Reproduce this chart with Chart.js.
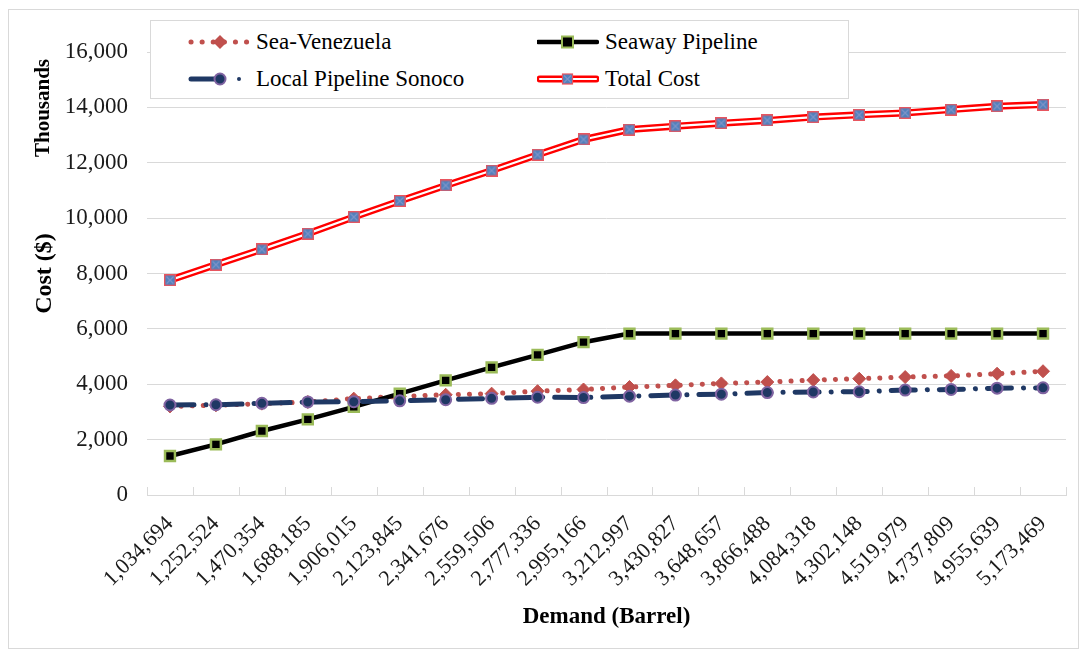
<!DOCTYPE html>
<html>
<head>
<meta charset="utf-8">
<title>Cost vs Demand</title>
<script src="https://cdn.jsdelivr.net/npm/chart.js@4"></script>
<style>
  html, body { margin: 0; padding: 0; background: #fff; }
  #wrap { position: relative; width: 1087px; height: 656px; overflow: hidden; }
  #c { position: absolute; left: 0; top: 0; }
  #frame { position: absolute; left: 8px; top: 9px; width: 1069px; height: 638px;
           border: 1px solid #d9d9d9; pointer-events: none; }
  #legend { position: absolute; left: 150px; top: 20px; width: 697px; height: 77px;
            background: #fff; border: 1px solid #d9d9d9;
            font-family: "Liberation Serif", "Times New Roman", serif; font-size: 23px; color: #000; }
  .item { position: absolute; height: 30px; display: flex; align-items: center; white-space: nowrap; }
  .item svg { display: block; margin-right: 6px; }
</style>
</head>
<body>
<div id="wrap">
  <canvas id="c" width="1087" height="656"></canvas>
  <div id="frame"></div>
  <div id="legend">
    <div class="item" style="left:37px; top:6px;">
      <svg width="62" height="20" viewBox="0 0 62 20">
        <line x1="3" y1="10" x2="60" y2="10" stroke="#C0504D" stroke-width="5" stroke-dasharray="0.1 11" stroke-linecap="round"/>
        <polygon points="32,3 39,10 32,17 25,10" fill="#C0504D"/>
      </svg>Sea-Venezuela
    </div>
    <div class="item" style="left:37px; top:43px;">
      <svg width="62" height="20" viewBox="0 0 62 20">
        <line x1="3" y1="10" x2="26" y2="10" stroke="#1F3864" stroke-width="5" stroke-linecap="round"/>
        <circle cx="32" cy="10" r="5.5" fill="#1F3864" stroke="#8064A2" stroke-width="2"/>
        <circle cx="51" cy="10" r="2" fill="#1F3864"/>
      </svg>Local Pipeline Sonoco
    </div>
    <div class="item" style="left:386px; top:6px;">
      <svg width="62" height="20" viewBox="0 0 62 20">
        <line x1="1" y1="10" x2="60" y2="10" stroke="#000" stroke-width="4.5" stroke-linecap="round"/>
        <rect x="25" y="4.5" width="11" height="11" fill="#000" stroke="#9BBB59" stroke-width="2"/>
      </svg>Seaway Pipeline
    </div>
    <div class="item" style="left:386px; top:43px;">
      <svg width="62" height="20" viewBox="0 0 62 20">
        <line x1="3" y1="10" x2="59" y2="10" stroke="#FF0000" stroke-width="7" stroke-linecap="round"/>
        <line x1="3" y1="10" x2="59" y2="10" stroke="#fff" stroke-width="2.2" stroke-linecap="round"/>
        <rect x="25.5" y="5" width="10" height="10" fill="#4F81BD" stroke="#E8555F" stroke-width="1.2"/>
        <path d="M27 6.5 L34 13.5 M34 6.5 L27 13.5" stroke="#7F93C8" stroke-width="1.2"/>
      </svg>Total Cost
    </div>
  </div>
</div>
<script>
// Demand levels (barrels) on the category axis
const demand = ['1,034,694', '1,252,524', '1,470,354', '1,688,185', '1,906,015',
                '2,123,845', '2,341,676', '2,559,506', '2,777,336', '2,995,166',
                '3,212,997', '3,430,827', '3,648,657', '3,866,488', '4,084,318',
                '4,302,148', '4,519,979', '4,737,809', '4,955,639', '5,173,469'];

// Cost per route, in thousands of dollars
const seaVenezuela = [3200, 3240, 3300, 3360, 3480, 3560, 3620, 3660, 3750, 3810,
                      3900, 3960, 4030, 4080, 4150, 4200, 4260, 4300, 4380, 4470];
const seawayPipeline = [1410, 1830, 2310, 2730, 3185, 3660, 4140, 4610, 5060, 5520,
                        5830, 5830, 5830, 5830, 5830, 5830, 5830, 5830, 5830, 5830];
const localPipelineSonoco = [3250, 3260, 3310, 3360, 3370, 3400, 3440, 3490, 3530, 3520,
                             3570, 3610, 3640, 3700, 3720, 3730, 3790, 3810, 3860, 3870];
const totalCost = [7760, 8320, 8870, 9440, 10040, 10620, 11180, 11720, 12290, 12840,
                   13200, 13320, 13430, 13530, 13650, 13730, 13800, 13920, 14040, 14100];

// Y axis range and step
const yMin = 0, yMax = 16000, yStep = 2000;

const FONT = '"Liberation Serif", "Times New Roman", serif';
const GRID = '#d9d9d9';

// Square marker with a cross, used on the total cost line
const totalMarker = (() => {
  const c = document.createElement('canvas');
  c.width = 12; c.height = 12;
  const g = c.getContext('2d');
  g.fillStyle = '#4F81BD';
  g.fillRect(0, 0, 12, 12);
  g.strokeStyle = '#E8555F';
  g.lineWidth = 1.4;
  g.strokeRect(0.7, 0.7, 10.6, 10.6);
  g.strokeStyle = '#7F93C8';
  g.lineWidth = 1.2;
  g.beginPath();
  g.moveTo(2.5, 2.5); g.lineTo(9.5, 9.5);
  g.moveTo(9.5, 2.5); g.lineTo(2.5, 9.5);
  g.stroke();
  return c;
})();

// Short tick marks pointing up from the category axis, at category boundaries
const innerTicks = {
  id: 'innerTicks',
  beforeDatasetsDraw(chart) {
    const xs = chart.scales.x;
    const n = xs.ticks.length;
    const step = xs.width / n;
    const ctx = chart.ctx;
    ctx.save();
    ctx.strokeStyle = GRID;
    ctx.lineWidth = 1;
    ctx.beginPath();
    for (let i = 0; i <= n; i++) {
      const x = Math.round(xs.left + i * step) + 0.5;
      ctx.moveTo(x, xs.top);
      ctx.lineTo(x, xs.top - 8);
    }
    ctx.stroke();
    ctx.restore();
  }
};

// Units note stacked above the y axis title
const unitsNote = {
  id: 'unitsNote',
  afterDraw(chart) {
    const ctx = chart.ctx;
    ctx.save();
    ctx.translate(44, 108);
    ctx.rotate(-Math.PI / 2);
    ctx.font = 'bold 21px ' + FONT;
    ctx.fillStyle = '#000';
    ctx.textAlign = 'center';
    ctx.textBaseline = 'middle';
    ctx.fillText('Thousands', 0, 0);
    ctx.restore();
  }
};

new Chart(document.getElementById('c'), {
  type: 'line',
  data: {
    labels: demand,
    datasets: [
      {
        label: 'Sea-Venezuela',
        data: seaVenezuela,
        borderColor: '#C0504D',
        borderWidth: 5,
        borderDash: [0.1, 11],
        borderCapStyle: 'round',
        pointStyle: 'rectRot',
        pointRadius: 6.5,
        pointBackgroundColor: '#C0504D',
        pointBorderColor: '#C0504D',
        pointBorderWidth: 1,
        order: 5
      },
      {
        label: 'Seaway Pipeline',
        data: seawayPipeline,
        borderColor: '#000',
        borderWidth: 4.5,
        pointStyle: 'rect',
        pointRadius: 7,
        pointBackgroundColor: '#000',
        pointBorderColor: '#9BBB59',
        pointBorderWidth: 2.5,
        order: 4
      },
      {
        label: 'Local Pipeline Sonoco',
        data: localPipelineSonoco,
        borderColor: '#1F3864',
        borderWidth: 5,
        borderDash: [24, 12, 0.1, 12],
        borderCapStyle: 'round',
        pointStyle: 'circle',
        pointRadius: 5.5,
        pointBackgroundColor: '#1F3864',
        pointBorderColor: '#8064A2',
        pointBorderWidth: 2,
        order: 3
      },
      {
        label: 'Total Cost',
        data: totalCost,
        borderColor: '#FF0000',
        borderWidth: 7,
        pointRadius: 0,
        order: 2
      },
      {
        label: 'Total Cost (core)',
        data: totalCost,
        borderColor: '#ffffff',
        borderWidth: 2.2,
        pointStyle: totalMarker,
        pointRadius: 6,
        order: 1
      }
    ]
  },
  options: {
    responsive: false,
    animation: false,
    devicePixelRatio: 1,
    layout: { padding: { top: 52, right: 21, bottom: 0, left: 0 } },
    plugins: {
      legend: { display: false },
      tooltip: { enabled: false }
    },
    elements: { line: { tension: 0 } },
    scales: {
      x: {
        type: 'category',
        offset: true,
        grid: { display: false },
        border: { display: true, color: GRID, width: 1 },
        ticks: {
          autoSkip: false,
          minRotation: 45,
          maxRotation: 45,
          padding: 8,
          color: '#1a1a1a',
          font: { family: FONT, size: 22 }
        },
        title: {
          display: true,
          text: 'Demand (Barrel)',
          color: '#000',
          font: { family: FONT, size: 23, weight: 'bold' },
          padding: { top: 0, bottom: 25 }
        },
        afterFit(scale) { scale.height = 161; }
      },
      y: {
        min: yMin,
        max: yMax,
        grid: { color: GRID, lineWidth: 1, drawTicks: false },
        border: { display: false },
        ticks: {
          stepSize: yStep,
          padding: 19,
          color: '#1a1a1a',
          font: { family: FONT, size: 23 },
          callback: v => v.toLocaleString('en-US')
        },
        title: {
          display: true,
          text: 'Cost ($)',
          color: '#000',
          font: { family: FONT, size: 24, weight: 'bold' },
          padding: { top: 30, bottom: 0 }
        },
        afterFit(scale) { scale.width = 147; }
      }
    }
  },
  plugins: [innerTicks, unitsNote]
});
</script>
</body>
</html>
